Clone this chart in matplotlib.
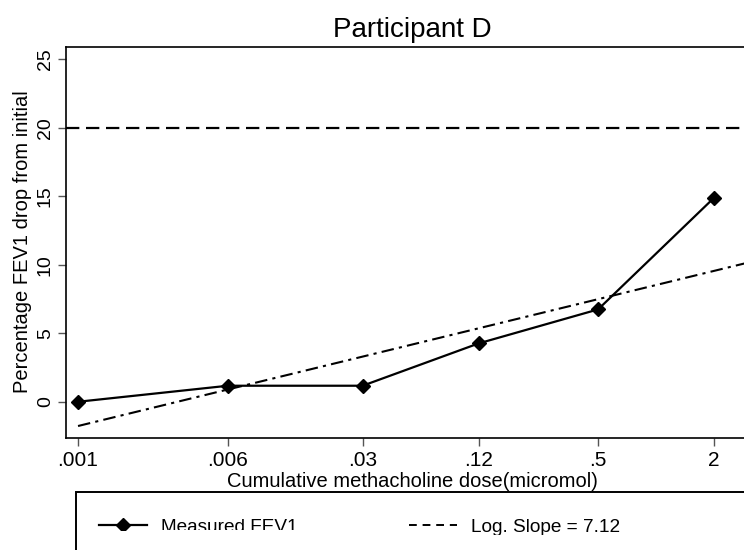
import numpy as np
import matplotlib
matplotlib.use('Agg')
import matplotlib.pyplot as plt
from matplotlib.lines import Line2D
from matplotlib.patches import Rectangle
from matplotlib.ticker import NullLocator
from matplotlib.transforms import Bbox, TransformedBbox

plt.rcParams['font.family'] = ['Liberation Sans', 'DejaVu Sans']

# cumulative methacholine dose (micromol) and FEV1 drop (%)
dose = [0.001, 0.006, 0.03, 0.12, 0.5, 2]
dose_labels = ['.001', '.006', '.03', '.12', '.5', '2']
fev_drop = [0.0, 1.17, 1.17, 4.26, 6.74, 14.89]
pc20 = 20
y_ticks = [0, 5, 10, 15, 20, 25]

# fitted line: drop = fit_a + fit_b * log10(dose)
fit_a = 8.52
fit_b = 3.43
fit_dose = [0.001, 4.0]
slope_label = 'Log. Slope = 7.12'

fig = plt.figure(figsize=(7.44, 5.5), dpi=100)
ax = fig.add_axes([0.0883, 0.2045, 0.9466, 0.71])

h_meas, = ax.plot(dose, fev_drop, color='black', lw=1.6, marker='D', ms=7, zorder=3)
fx = np.array(fit_dose)
ax.plot(fx, fit_a + fit_b * np.log10(fx), color='black', lw=1.5,
        linestyle=(0, (6, 2.5, 1.5, 2.5)))
ax.axhline(pc20, color='black', lw=1.6, linestyle=(0, (6, 3)))

ax.set_xscale('log')
ax.set_xlim(10 ** -3.064, 10 ** 0.591)
ax.set_ylim(-2.61, 25.89)
ax.set_xticks(dose)
ax.set_xticklabels(dose_labels)
ax.xaxis.set_minor_locator(NullLocator())
ax.set_yticks(y_ticks)
ax.set_yticklabels([str(v) for v in y_ticks], rotation=90, va='center')

ax.tick_params(length=6, width=1, color='#555555', labelsize=14)
ax.tick_params(axis='x', pad=4, labelsize=15)
ax.tick_params(axis='y', pad=2.5)
for s in ax.spines.values():
    s.set_linewidth(1.2)
    s.set_color('black')

fig.text(412 / 744, 1 - 37 / 550, 'Participant D', ha='center', va='baseline', fontsize=20)
fig.text(412 / 744, 1 - 487 / 550, 'Cumulative methacholine dose(micromol)',
         ha='center', va='baseline', fontsize=14.5)
fig.text(23 / 744, 1 - 242 / 550, 'Percentage FEV1 drop from initial',
         ha='center', va='center', rotation=90, fontsize=14.5)

# legend box
fig.add_artist(Rectangle((76 / 744, -0.2), 1.2, (1 - 492 / 550) + 0.2,
                         transform=fig.transFigure, fill=False, lw=1.4, ec='black'))

proxy = Line2D([], [], color='black', lw=1.4, linestyle=(0, (4, 3)))
leg_kw = dict(loc='center left', frameon=False, fontsize=13.7, handlelength=2.5,
              handletextpad=0.75, borderpad=0, borderaxespad=0)
leg1 = fig.legend([h_meas], ['Measured FEV1'], bbox_to_anchor=(99 / 744, 1 - 527 / 550), **leg_kw)
leg2 = fig.legend([proxy], [slope_label], bbox_to_anchor=(409 / 744, 1 - 527 / 550), **leg_kw)

for leg, cut in [(leg1, 530), (leg2, 535)]:
    clip = TransformedBbox(Bbox([[0, 1 - cut / 550], [1, 1]]), fig.transFigure)
    for a in leg.get_texts() + leg.legend_handles:
        a.set_clip_box(clip)
        a.set_clip_on(True)

fig.savefig('out.png', dpi=100)
